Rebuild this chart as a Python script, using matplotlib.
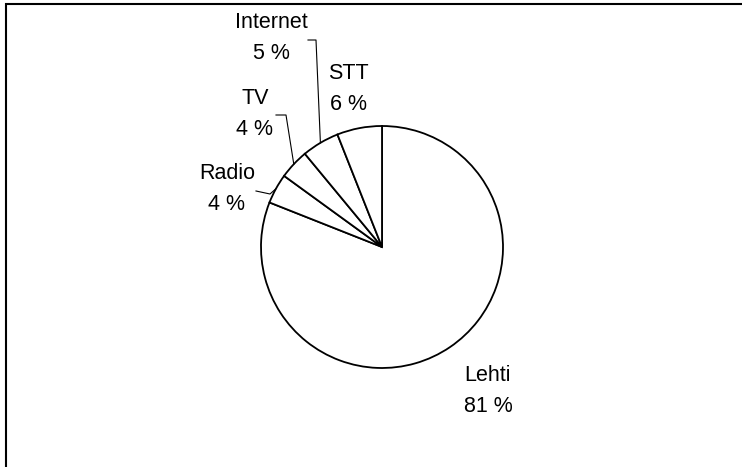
import numpy as np
import matplotlib
matplotlib.use('Agg')
import matplotlib.pyplot as plt
from matplotlib.patches import Rectangle

# data (clockwise from 12 o'clock)
labels = ['Lehti', 'Radio', 'TV', 'Internet', 'STT']
shares = [81, 4, 4, 5, 6]

W, H = 742, 467
# label centres in pixel coords (x, y from top)
label_pos = {'Lehti': (488, 391), 'Radio': (227, 189), 'TV': (255, 114),
             'Internet': (271, 38), 'STT': (348, 89)}
# leader lines: start near label, elbow (pixel coords), end at wedge edge
leaders = {'Radio': [(256, 191), (270, 194)],
           'TV': [(276, 115), (286, 115)],
           'Internet': [(308, 40), (316, 40)]}

cx, cy, r = 382, 247, 121

fig = plt.figure(figsize=(W / 100, H / 100), dpi=100)
ax = fig.add_axes([0, 0, 1, 1])
ax.set_xlim(0, W)
ax.set_ylim(0, H)
ax.axis('off')

wedges, _ = ax.pie(shares, startangle=90, counterclock=False,
                   center=(cx, H - cy), radius=r,
                   colors=['white'] * len(shares),
                   wedgeprops=dict(edgecolor='black', linewidth=1.3))
ax.set_xlim(0, W)
ax.set_ylim(0, H)
ax.set_aspect('auto')

for lab, val, w in zip(labels, shares, wedges):
    x, y = label_pos[lab]
    ax.text(x, H - y, '%s\n%d %%' % (lab, val), ha='center', va='center',
            fontsize=15.5, linespacing=1.6,
            family=['Liberation Sans', 'DejaVu Sans'])
    if lab in leaders:
        mid = np.deg2rad((w.theta1 + w.theta2) / 2)
        ex, ey = cx + r * np.cos(mid), (H - cy) + r * np.sin(mid)
        pts = [(px, H - py) for px, py in leaders[lab]] + [(ex, ey)]
        xs, ys = zip(*pts)
        ax.plot(xs, ys, color='black', linewidth=0.8)

# chart area border (only top and left edges fall inside the picture)
fig.patches.append(Rectangle((6 / W, -0.1), 1.2, (H - 3.5) / H + 0.1,
                             transform=fig.transFigure, fill=False,
                             edgecolor='black', linewidth=1.5))

fig.savefig('out.png', dpi=100)
